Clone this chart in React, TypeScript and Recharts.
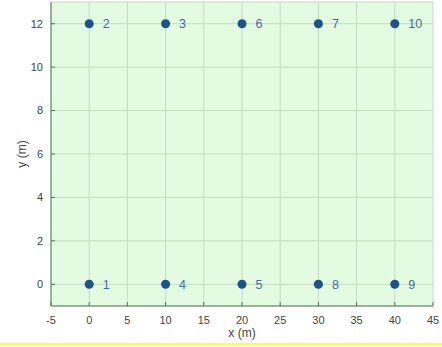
import {
  ScatterChart,
  Scatter,
  XAxis,
  YAxis,
  ZAxis,
  CartesianGrid,
  LabelList,
} from "recharts";

const ids = [1, 2, 3, 4, 5, 6, 7, 8, 9, 10];
const xs = [0, 0, 10, 10, 20, 20, 30, 30, 40, 40];
const ys = [0, 12, 12, 0, 0, 12, 12, 0, 0, 12];
const xTicks = [-5, 0, 5, 10, 15, 20, 25, 30, 35, 40, 45];
const yTicks = [0, 2, 4, 6, 8, 10, 12];

const points = ids.map((id, i) => ({ id, x: xs[i], y: ys[i] }));

const tickStyle = { fontSize: 11, fill: "#444", fontFamily: "Liberation Sans, Arial, sans-serif" };

export default function App() {
  return (
    <div
      style={{
        position: "fixed",
        top: 0,
        left: 0,
        width: 442,
        height: 347,
        overflow: "hidden",
        background: "#fff",
      }}
    >
      <ScatterChart
        width={442}
        height={343}
        margin={{ top: 2, right: 9, left: 0, bottom: 2 }}
      >
        <CartesianGrid fill="#e3fbe1" stroke="#c6dbc4" strokeWidth={1} />
        <XAxis
          type="number"
          dataKey="x"
          domain={[-5, 45]}
          ticks={xTicks}
          height={35}
          tickSize={-4}
          tickMargin={14}
          tick={tickStyle}
          stroke="#5a745a"
          label={{
            value: "x (m)",
            position: "insideBottom",
            offset: 4,
            style: { ...tickStyle, fontSize: 12 },
          }}
        />
        <YAxis
          type="number"
          dataKey="y"
          domain={[-1, 13]}
          ticks={yTicks}
          width={51}
          tickSize={-4}
          tickMargin={12}
          tick={tickStyle}
          stroke="#5a745a"
          label={{
            value: "y (m)",
            angle: -90,
            position: "insideLeft",
            offset: 22,
            style: { ...tickStyle, fontSize: 12, textAnchor: "middle" },
          }}
        />
        <ZAxis range={[40, 40]} />
        <Scatter data={points} fill="#1f5288" isAnimationActive={false}>
          <LabelList
            dataKey="id"
            position="right"
            offset={9}
            style={{ fontSize: 12.5, fill: "#3f6e9c", fontFamily: "Liberation Sans, Arial, sans-serif" }}
          />
        </Scatter>
      </ScatterChart>
      <div
        style={{
          borderTop: "2px solid #ffff44",
          height: 20,
          textAlign: "center",
          fontFamily: "Liberation Serif, Times New Roman, serif",
          fontSize: 18,
          lineHeight: "18px",
          paddingTop: 1,
          color: "#333",
        }}
      >
        Figure 3: Layout and information
      </div>
    </div>
  );
}
